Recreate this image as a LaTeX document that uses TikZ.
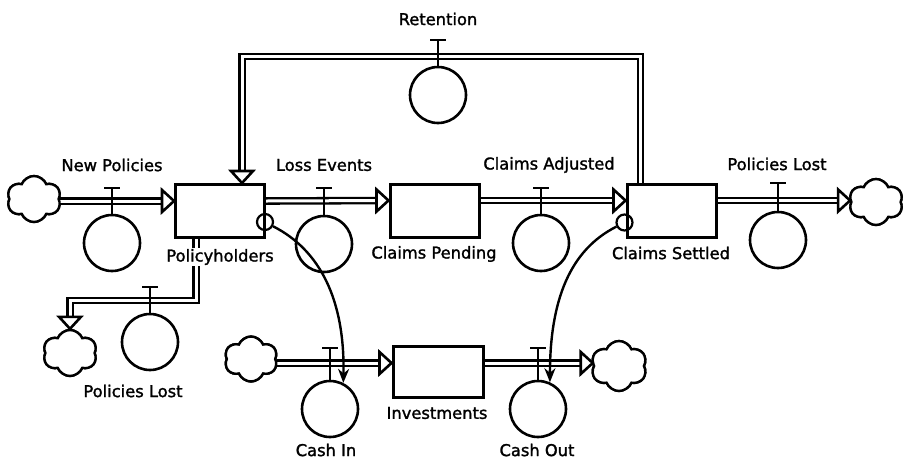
\documentclass[tikz,border=0pt]{standalone}
\usepackage{fontspec}
\setmainfont{DejaVu Sans}[FakeBold=1.5]
\usetikzlibrary{shapes.symbols,arrows.meta,calc}
\tikzset{
  stock/.style={draw, line width=3pt, minimum width=89pt, minimum height=53pt, inner sep=0pt},
  pipe/.style={line width=2.3pt, double=white, double distance=3pt, line join=miter},
  cloudy/.style={cloud, cloud ignores aspect, draw, line width=2.4pt, cloud puffs=6, cloud puff arc=135, minimum width=54pt, minimum height=46pt, inner sep=0pt, fill=white},
  lbl/.style={font=\fontsize{16.3}{18}\selectfont, inner sep=1pt},
  vcirc/.style={circle, draw, line width=2.6pt, minimum size=56pt, inner sep=0pt},
  vline/.style={line width=2.6pt},
  link/.style={line width=2.4pt, -{Stealth[length=14pt,width=11pt]}},
  linkdot/.style={circle, draw, line width=2.2pt, minimum size=16pt, inner sep=0pt},
  tipshape/.pic={\draw[line width=2.6pt, fill=white, line join=miter] (0,0) -- (-12,11) -- (-12,-11) -- cycle;},
  valve/.pic={
    \draw[vline] (0,-28) -- (0,{-28-#1});
    \draw[vline] (-8,{-28-#1}) -- (8,{-28-#1});
    \node[vcirc, fill=white] (-c) at (0,0) {};
  }
}
\begin{document}
\begin{tikzpicture}[x=1pt,y=-1pt]
\fill[white] (0,0) rectangle (911,459);
\useasboundingbox (0,0) rectangle (911,459);

% stocks
\node[stock] (ph) at (220,211) {};
\node[stock] (cp) at (434.5,210.5) {};
\node[stock] (cs) at (671.5,210.5) {};
\node[stock, minimum width=90pt, minimum height=51pt] (inv) at (438,371.5) {};

% clouds
\node[cloudy] (npc) at (34,199) {};
\node[cloudy] (plrc) at (876,202) {};
\node[cloudy] (pllc) at (70,353) {};
\node[cloudy, minimum width=53pt, minimum height=45pt] (cic) at (251,359) {};
\node[cloudy, minimum width=56pt, minimum height=50pt] (coc) at (619,366) {};

% pipe coordinates
\coordinate (phin) at ($(ph.west)+(0,-10)$);
\coordinate (phout) at ($(ph.east)+(0,-10)$);
\coordinate (cpin) at ($(cp.west)+(0,-10)$);
\coordinate (cpout) at ($(cp.east)+(0,-10)$);
\coordinate (csin) at ($(cs.west)+(0,-10)$);
\coordinate (csout) at ($(cs.east)+(0,-10)$);
\coordinate (ret1) at ($(cs.north west)+(15,0)$);
\coordinate (rettip) at ($(ph.north west)+(68,0)$);
\coordinate (rettop) at (438,56.5);
\coordinate (pl1) at ($(ph.south west)+(22,0)$);
\coordinate (plmid) at (150,300.5);
\coordinate (invin) at ($(inv.west)+(0,-8.5)$);
\coordinate (invout) at ($(inv.east)+(0,-8.5)$);

% pipes
\draw[pipe, shorten >=11pt] (npc.east |- phin) -- (phin);
\draw[pipe, shorten >=11pt] (phout) -- (cpin);
\draw[pipe, shorten >=11pt] (cpout) -- (csin);
\draw[pipe, shorten >=11pt] (csout) -- (plrc.west |- csout);
\draw[pipe, shorten >=11pt] (ret1) |- (rettop) -| (rettip);
\draw[pipe, shorten >=11pt] (pl1) |- (plmid) -| (pllc.north);
\draw[pipe, shorten >=11pt] (cic.east |- invin) -- (invin);
\draw[pipe, shorten >=11pt] (invout) -- (coc.west |- invout);

% redraw clouds and stocks over pipe ends
\node[cloudy] at (npc) {};
\node[cloudy] at (plrc) {};
\node[cloudy] at (pllc) {};
\node[cloudy, minimum width=53pt, minimum height=45pt] at (cic) {};
\node[cloudy, minimum width=56pt, minimum height=50pt] at (coc) {};
\node[stock] at (ph) {};
\node[stock] at (cp) {};
\node[stock] at (cs) {};
\node[stock, minimum width=90pt, minimum height=51pt] at (inv) {};

% arrow tips
\pic at (phin) {tipshape};
\pic at (cpin) {tipshape};
\pic at (csin) {tipshape};
\pic at (plrc.west |- csout) {tipshape};
\pic[rotate=-90] at (rettip) {tipshape};
\pic[rotate=-90] at (pllc.north) {tipshape};
\pic at (invin) {tipshape};
\pic at (coc.west |- invout) {tipshape};

% valves
\pic (np) at (112,243) {valve=27};
\pic (le) at (324,244) {valve=28};
\pic (ca) at (541,243) {valve=27};
\pic (plr) at (778,240) {valve=29};
\pic (ret) at (438,95) {valve=27};
\pic (pll) at (150,342) {valve=27};
\pic (ci) at (330,409) {valve=33};
\pic (co) at (538,409) {valve=33};

% labels
\node[lbl] (lnp) at (112,165) {New Policies};
\node[lbl] (lle) at (324,165) {Loss Events};
\node[lbl] (lca) at (549,165) {Claims Adjusted};
\node[lbl] (lplr) at (777,164) {Policies Lost};
\node[lbl] (lret) at (438,19) {Retention};
\node[lbl, fill=white] (lph) at (220,257) {Policyholders};
\node[lbl] (lcp) at (434,254) {Claims Pending};
\node[lbl] (lcs) at (671,253) {Claims Settled};
\node[lbl] (lpll) at (133,391) {Policies Lost};
\node[lbl] (linv) at (437,413) {Investments};
\node[lbl] (lci) at (326,450) {Cash In};
\node[lbl] (lco) at (537,450) {Cash Out};

% information links
\node[linkdot] (phd) at ($(ph.south east)+(-1,-17)$) {};
\node[linkdot] (csd) at ($(cs.south west)+(-1,-16)$) {};
\draw[link] (phd.-28) .. controls (320,250) and (345,300) .. (ci-c.63);
\draw[link] (csd.-153) .. controls (570,250) and (550,300) .. (co-c.66);
\end{tikzpicture}
\end{document}
